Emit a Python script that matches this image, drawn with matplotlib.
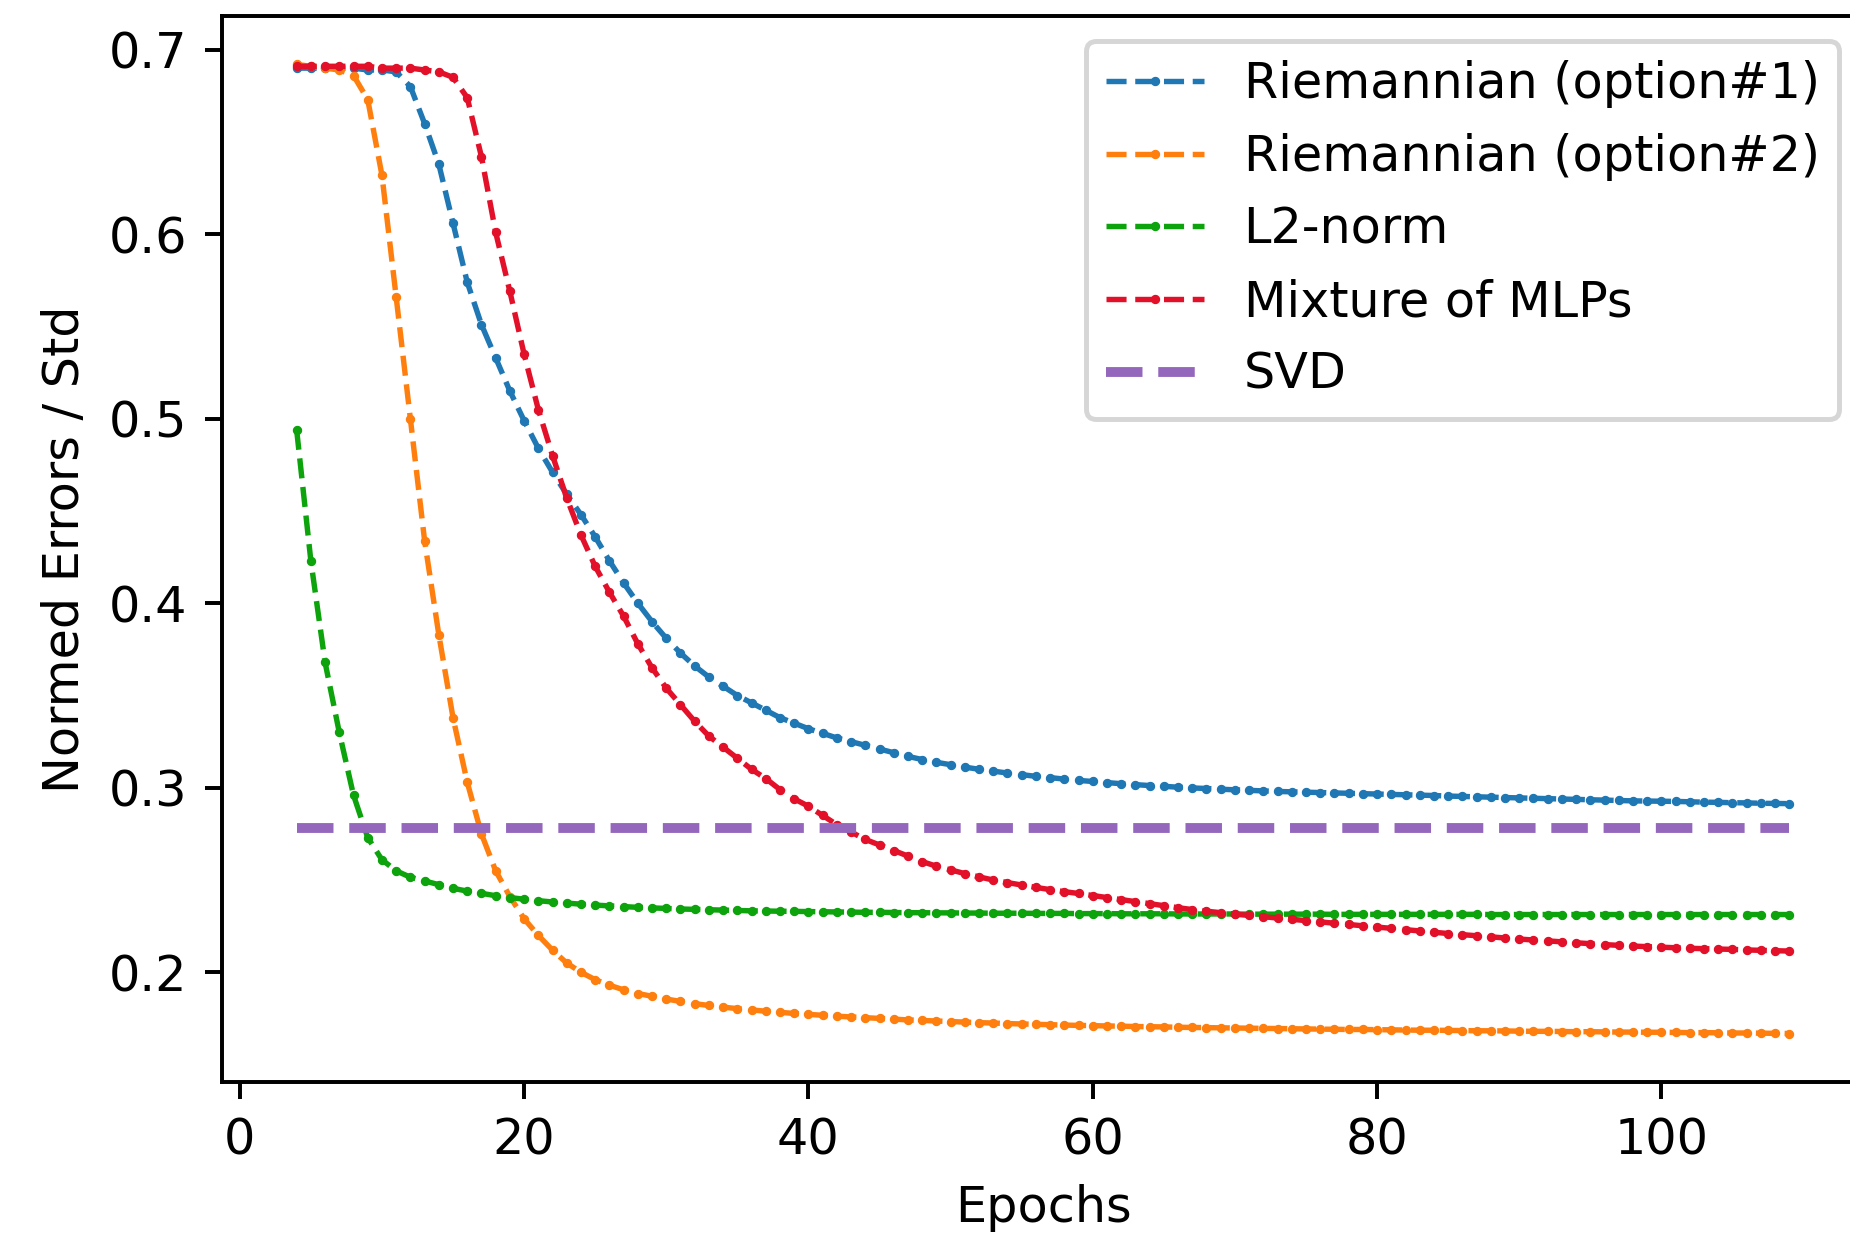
import numpy as np
import matplotlib
matplotlib.use("Agg")
import matplotlib.pyplot as plt

epochs = list(range(4, 110))

riem1 = [0.690, 0.690, 0.690, 0.690, 0.690, 0.689, 0.689, 0.688, 0.680, 0.660,
         0.638, 0.606, 0.574, 0.551, 0.533, 0.515, 0.499, 0.484, 0.471, 0.459,
         0.448, 0.436, 0.423, 0.411, 0.400, 0.390, 0.381, 0.373, 0.366, 0.360,
         0.355, 0.350, 0.346, 0.342, 0.338, 0.335, 0.332, 0.3295, 0.327, 0.325,
         0.323, 0.321, 0.3190, 0.3170, 0.3153, 0.3138, 0.3125, 0.3112, 0.3100, 0.3090,
         0.3080, 0.3071, 0.3062, 0.3055, 0.3047, 0.3040, 0.3034, 0.3028, 0.3022, 0.3017,
         0.3012, 0.3008, 0.3003, 0.2999, 0.2996, 0.2992, 0.2989, 0.2986, 0.2983, 0.2980,
         0.2978, 0.2976, 0.2974, 0.2972, 0.2970, 0.2968, 0.2966, 0.2964, 0.2962, 0.2960,
         0.2958, 0.2955, 0.2953, 0.2951, 0.2949, 0.2947, 0.2945, 0.2943, 0.2941, 0.2939,
         0.2937, 0.2935, 0.2933, 0.2931, 0.2929, 0.2928, 0.2927, 0.2926, 0.2924, 0.2922,
         0.2921, 0.2919, 0.2918, 0.2916, 0.2915, 0.2914]

riem2 = [0.692, 0.691, 0.690, 0.689, 0.686, 0.673, 0.632, 0.566, 0.500, 0.434,
         0.383, 0.338, 0.303, 0.275, 0.255, 0.241, 0.229, 0.220, 0.212, 0.205,
         0.200, 0.196, 0.193, 0.1905, 0.1885, 0.187, 0.1855, 0.1842, 0.1830, 0.1820,
         0.1811, 0.1803, 0.1796, 0.1789, 0.1783, 0.1777, 0.1772, 0.1767, 0.1762, 0.1758,
         0.1754, 0.1750, 0.1746, 0.1742, 0.1739, 0.1736, 0.1733, 0.1730, 0.1727, 0.1725,
         0.1722, 0.1720, 0.1718, 0.1716, 0.1714, 0.1712, 0.1711, 0.1709, 0.1708, 0.1706,
         0.1705, 0.1704, 0.1702, 0.1701, 0.1700, 0.1699, 0.1698, 0.1697, 0.1696, 0.1695,
         0.1694, 0.1693, 0.1692, 0.1691, 0.1690, 0.1690, 0.1689, 0.1688, 0.1687, 0.1686,
         0.1686, 0.1685, 0.1684, 0.1683, 0.1683, 0.1682, 0.1681, 0.1680, 0.1680, 0.1679,
         0.1678, 0.1678, 0.1677, 0.1676, 0.1676, 0.1675, 0.1675, 0.1674, 0.1673, 0.1673,
         0.1672, 0.1671, 0.1671, 0.1670, 0.1669, 0.1668]

l2norm = [0.494, 0.423, 0.368, 0.330, 0.296, 0.273, 0.261, 0.2550, 0.2515, 0.2495,
          0.2475, 0.2455, 0.2440, 0.2428, 0.2415, 0.2405, 0.2396, 0.2388, 0.2381, 0.2375,
          0.2369, 0.2364, 0.2360, 0.2356, 0.2352, 0.2349, 0.2346, 0.2343, 0.2341, 0.2339,
          0.2337, 0.2335, 0.2333, 0.2332, 0.2331, 0.2330, 0.2329, 0.2328, 0.2327, 0.2326,
          0.2325, 0.2325, 0.2324, 0.2323, 0.2323, 0.2322, 0.2322, 0.2321, 0.2321, 0.2320,
          0.2320, 0.2320, 0.2319, 0.2319, 0.2319, 0.2318, 0.2318, 0.2318, 0.2317, 0.2317,
          0.2317, 0.2317, 0.2316, 0.2316, 0.2316, 0.2316, 0.2316, 0.2315, 0.2315, 0.2315,
          0.2315, 0.2315, 0.2315, 0.2314, 0.2314, 0.2314, 0.2314, 0.2314, 0.2314, 0.2314,
          0.2314, 0.2314, 0.2314, 0.2314, 0.2313, 0.2313, 0.2313, 0.2313, 0.2313, 0.2313,
          0.2313, 0.2313, 0.2313, 0.2313, 0.2313, 0.2313, 0.2313, 0.2313, 0.2313, 0.2313,
          0.2313, 0.2313, 0.2313, 0.2313, 0.2313, 0.2313]

mixture = [0.691, 0.691, 0.691, 0.691, 0.691, 0.691, 0.690, 0.690, 0.690, 0.689,
           0.688, 0.685, 0.674, 0.642, 0.601, 0.569, 0.535, 0.505, 0.480, 0.457,
           0.437, 0.420, 0.406, 0.393, 0.378, 0.365, 0.354, 0.345, 0.336, 0.328,
           0.322, 0.316, 0.310, 0.305, 0.299, 0.294, 0.290, 0.285, 0.280, 0.276,
           0.272, 0.269, 0.266, 0.263, 0.260, 0.2575, 0.2555, 0.2535, 0.2517, 0.2500,
           0.2486, 0.2473, 0.2460, 0.2448, 0.2437, 0.2427, 0.2416, 0.2405, 0.2394, 0.2383,
           0.2372, 0.2361, 0.2350, 0.2340, 0.2331, 0.2323, 0.2315, 0.2308, 0.2301, 0.2294,
           0.2287, 0.2280, 0.2273, 0.2266, 0.2259, 0.2252, 0.2245, 0.2238, 0.2231, 0.2224,
           0.2217, 0.2210, 0.2204, 0.2198, 0.2192, 0.2186, 0.2180, 0.2175, 0.2170, 0.2165,
           0.2160, 0.2155, 0.2150, 0.2146, 0.2142, 0.2139, 0.2136, 0.2133, 0.2130, 0.2128,
           0.2126, 0.2124, 0.2121, 0.2119, 0.2117, 0.2115]

svd_error = 0.278

labels = ["Riemannian (option#1)", "Riemannian (option#2)", "L2-norm",
          "Mixture of MLPs", "SVD"]
colors = ["#1f77b4", "#ff7f0e", "#0ca30c", "#e3102a", "#9467bd"]

DPI = 355
fig = plt.figure(figsize=(1850 / DPI, 1235 / DPI), dpi=DPI)
ax = fig.add_axes([222 / 1850, 1 - 1082 / 1235, (1864 - 222) / 1850, (1082 - 16) / 1235])

for series, lab, col in zip([riem1, riem2, l2norm, mixture], labels[:4], colors[:4]):
    ax.plot(epochs, series, linestyle="--", marker=".", markersize=1.8,
            linewidth=1.1, color=col, label=lab)

ax.plot([epochs[0], epochs[-1]], [svd_error, svd_error], linestyle="--",
        linewidth=2, color=colors[4], label=labels[4])

ax.set_xlabel("Epochs", fontsize=10)
ax.set_ylabel("Normed Errors / Std", fontsize=10)
ax.tick_params(labelsize=10)
ax.set_xticks([0, 20, 40, 60, 80, 100])
ax.set_yticks([0.2, 0.3, 0.4, 0.5, 0.6, 0.7])
ax.legend(loc="upper right", fontsize=10)

fig.savefig("out.png", dpi=DPI)
